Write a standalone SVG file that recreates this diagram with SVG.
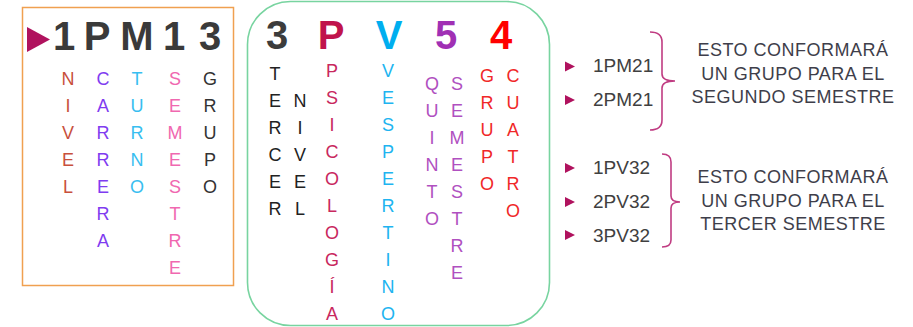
<svg xmlns="http://www.w3.org/2000/svg" width="913" height="327" viewBox="0 0 913 327">
<style>
text{font-family:"Liberation Sans","DejaVu Sans",sans-serif}
.big{font-size:40px;font-weight:bold;text-anchor:middle}
.col{font-size:18px;text-anchor:middle}
.code{font-size:19px;fill:#404040}
.note{font-size:18px;fill:#3E3E4A;text-anchor:middle;letter-spacing:0.5px}
.tri{fill:#B0125E}
.brace{fill:none;stroke:#C03C82;stroke-width:1.6}
</style>
<rect width="913" height="327" fill="#fff"/>
<g id="box1">
<rect x="22.5" y="7.5" width="211" height="278" fill="none" stroke="#F0A050" stroke-width="1.5"/>
<polygon class="tri" points="27,27 50,39.5 27,52"/>
<g fill="#3A3A3A">
<text class="big" x="64" y="50">1</text><text class="big" x="97" y="50">P</text><text class="big" x="137" y="50">M</text><text class="big" x="174" y="50">1</text><text class="big" x="210" y="50">3</text>
</g>
<g class="col" fill="#C8503C"><text class="col" x="68" y="85">N</text><text class="col" x="68" y="112">I</text><text class="col" x="68" y="139">V</text><text class="col" x="68" y="166">E</text><text class="col" x="68" y="193">L</text></g>
<g fill="#7F3CF0"><text class="col" x="103" y="85">C</text><text class="col" x="103" y="112">A</text><text class="col" x="103" y="139">R</text><text class="col" x="103" y="166">R</text><text class="col" x="103" y="193">E</text><text class="col" x="103" y="220">R</text><text class="col" x="103" y="247">A</text></g>
<g fill="#38BEF0"><text class="col" x="137" y="85">T</text><text class="col" x="137" y="112">U</text><text class="col" x="137" y="139">R</text><text class="col" x="137" y="166">N</text><text class="col" x="137" y="193">O</text></g>
<g fill="#F068B0"><text class="col" x="175" y="85">S</text><text class="col" x="175" y="112">E</text><text class="col" x="175" y="139">M</text><text class="col" x="175" y="166">E</text><text class="col" x="175" y="193">S</text><text class="col" x="175" y="220">T</text><text class="col" x="175" y="247">R</text><text class="col" x="175" y="274">E</text></g>
<g fill="#333333"><text class="col" x="210" y="85">G</text><text class="col" x="210" y="112">R</text><text class="col" x="210" y="139">U</text><text class="col" x="210" y="166">P</text><text class="col" x="210" y="193">O</text></g>
</g>
<g id="box2">
<rect x="247.5" y="1.5" width="302" height="324" rx="43" fill="none" stroke="#78D4A0" stroke-width="1.6"/>
<text class="big" x="277" y="49" fill="#3C3C3C">3</text>
<text class="big" x="331" y="49" fill="#C0144C">P</text>
<text class="big" x="389" y="49" fill="#00AEEF">V</text>
<text class="big" x="446" y="49" fill="#A030B4">5</text>
<text class="big" x="501" y="49" fill="#FF0000">4</text>
<g fill="#222"><text class="col" x="275" y="80">T</text><text class="col" x="275" y="107">E</text><text class="col" x="275" y="134">R</text><text class="col" x="275" y="161">C</text><text class="col" x="275" y="188">E</text><text class="col" x="275" y="215">R</text>
<text class="col" x="300" y="107">N</text><text class="col" x="300" y="134">I</text><text class="col" x="300" y="161">V</text><text class="col" x="300" y="188">E</text><text class="col" x="300" y="215">L</text></g>
<g fill="#C8285E"><text class="col" x="332" y="77">P</text><text class="col" x="332" y="104">S</text><text class="col" x="332" y="131">I</text><text class="col" x="332" y="158">C</text><text class="col" x="332" y="185">O</text><text class="col" x="332" y="212">L</text><text class="col" x="332" y="239">O</text><text class="col" x="332" y="266">G</text><text class="col" x="332" y="293">Í</text><text class="col" x="332" y="320">A</text></g>
<g fill="#20B4F0"><text class="col" x="388" y="77">V</text><text class="col" x="388" y="104">E</text><text class="col" x="388" y="131">S</text><text class="col" x="388" y="158">P</text><text class="col" x="388" y="185">E</text><text class="col" x="388" y="212">R</text><text class="col" x="388" y="239">T</text><text class="col" x="388" y="266">I</text><text class="col" x="388" y="293">N</text><text class="col" x="388" y="320">O</text></g>
<g fill="#B050C0"><text class="col" x="432" y="90">Q</text><text class="col" x="432" y="117">U</text><text class="col" x="432" y="144">I</text><text class="col" x="432" y="171">N</text><text class="col" x="432" y="198">T</text><text class="col" x="432" y="225">O</text>
<text class="col" x="457" y="90">S</text><text class="col" x="457" y="117">E</text><text class="col" x="457" y="144">M</text><text class="col" x="457" y="171">E</text><text class="col" x="457" y="198">S</text><text class="col" x="457" y="225">T</text><text class="col" x="457" y="252">R</text><text class="col" x="457" y="279">E</text></g>
<g fill="#F02828"><text class="col" x="487" y="82">G</text><text class="col" x="487" y="109">R</text><text class="col" x="487" y="136">U</text><text class="col" x="487" y="163">P</text><text class="col" x="487" y="190">O</text>
<text class="col" x="513" y="82">C</text><text class="col" x="513" y="109">U</text><text class="col" x="513" y="136">A</text><text class="col" x="513" y="163">T</text><text class="col" x="513" y="190">R</text><text class="col" x="513" y="217">O</text></g>
</g>
<g id="list1">
<polygon class="tri" points="565,61.5 575,66.5 565,71.5"/><text class="code" x="593" y="72">1PM21</text>
<polygon class="tri" points="565,95 575,100 565,105"/><text class="code" x="593" y="106">2PM21</text>
</g>
<g id="list2">
<polygon class="tri" points="565,163 575,168 565,173"/><text class="code" x="593" y="174">1PV32</text>
<polygon class="tri" points="565,197 575,202 565,207"/><text class="code" x="593" y="208">2PV32</text>
<polygon class="tri" points="565,230 575,235 565,240"/><text class="code" x="593" y="242">3PV32</text>
</g>
<g id="note1">
<text class="note" x="793" y="56">ESTO CONFORMARÁ</text>
<text class="note" x="793" y="80">UN GRUPO PARA EL</text>
<text class="note" x="793" y="103">SEGUNDO SEMESTRE</text>
</g>
<g id="note2">
<text class="note" x="793" y="183">ESTO CONFORMARÁ</text>
<text class="note" x="793" y="207">UN GRUPO PARA EL</text>
<text class="note" x="793" y="230">TERCER SEMESTRE</text>
</g>
<g id="connectors">
<path class="brace" d="M650,32 Q662,32 662,42 L662,74 Q662,81 675,81 Q662,81 662,88 L662,120 Q662,130 650,130"/>
<path class="brace" d="M662,154 Q671,154 671,162 L671,196 Q671,202 680,202 Q671,202 671,208 L671,240 Q671,247 662,247"/>
</g>
</svg>
